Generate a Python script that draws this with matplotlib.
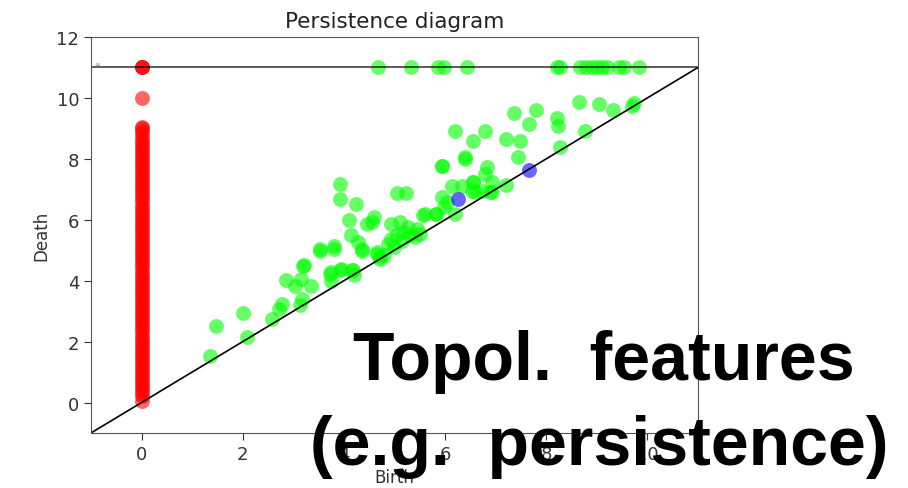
import numpy as np
import matplotlib
matplotlib.use("Agg")
import matplotlib.pyplot as plt

# persistence pairs (inf death drawn at 11)
inf_level = 11.0

red_birth = 0.0
red_death = [0.05, 0.2, 0.3, 0.4, 0.5, 0.6, 0.7, 0.8, 0.9, 1.0, 1.1, 1.2, 1.3,
             1.4, 1.5, 1.6, 1.7, 1.8, 1.9, 2.0, 2.1, 2.2, 2.3, 2.4, 2.5, 2.6,
             2.7, 2.8, 2.9, 3.0, 3.1, 3.2, 3.3, 3.4, 3.5, 3.6, 3.7, 3.8, 3.9,
             4.0, 4.1, 4.2, 4.3, 4.4, 4.5, 4.6, 4.7, 4.8, 4.9, 5.0, 5.1, 5.2,
             5.3, 5.4, 5.5, 5.6, 5.7, 5.8, 5.9, 6.0, 6.1, 6.2, 6.3, 6.4, 6.5,
             6.6, 6.7, 6.8, 6.9, 7.0, 7.1, 7.2, 7.3, 7.4, 7.5, 7.6, 7.7, 7.8,
             7.9, 8.0, 8.1, 8.2, 8.3, 8.4, 8.5, 8.6, 8.7, 8.8, 8.9, 9.0, 9.05,
             10.0]
red_inf_count = 3

green_birth = [1.36, 1.47, 2.01, 2.09, 2.57, 2.72, 2.77, 2.85, 3.03, 3.19, 3.16,
               3.34, 3.13, 3.18, 3.52, 3.80, 3.72, 3.74, 3.95, 4.18, 4.20, 4.35,
               4.65, 4.71, 3.92, 3.92, 4.24, 4.10, 4.14, 4.28, 4.35, 3.52, 3.80,
               3.21, 3.74, 3.95, 4.17, 4.45, 4.59, 4.55, 5.04, 5.23, 4.94, 5.11,
               5.27, 5.44, 4.94, 4.88, 5.04, 4.65, 4.71, 5.17, 5.31, 5.50, 5.57,
               5.82, 5.93, 6.40, 6.83, 6.79, 5.93, 6.03, 6.13, 6.33, 6.56, 6.53,
               6.73, 6.92, 5.97, 6.20, 6.20, 6.55, 6.79, 6.40, 5.93, 7.21, 7.49,
               7.37, 7.80, 7.66, 8.22, 8.24, 8.64, 9.04, 9.32, 8.77, 8.28, 7.45,
               7.21, 6.92, 6.56, 6.89, 6.59, 5.60, 5.83, 9.74, 9.70, 5.00, 5.15,
               4.80, 5.40]
green_death = [1.53, 2.50, 2.94, 2.15, 2.75, 3.08, 3.25, 4.01, 3.83, 4.48, 4.07,
               3.83, 3.21, 3.41, 4.99, 5.05, 4.23, 3.99, 4.34, 4.34, 4.20, 4.99,
               4.94, 4.78, 7.18, 6.69, 6.52, 5.98, 5.51, 5.27, 5.03, 5.03, 5.14,
               4.50, 4.28, 4.39, 4.36, 5.87, 6.09, 5.92, 6.87, 6.87, 5.87, 5.92,
               5.76, 5.70, 5.38, 5.21, 5.49, 4.89, 4.72, 5.60, 5.49, 5.54, 6.14,
               6.20, 7.78, 8.00, 7.73, 7.51, 6.74, 6.58, 7.12, 7.12, 7.23, 6.96,
               6.96, 6.90, 6.42, 6.20, 8.90, 8.60, 8.90, 8.05, 7.75, 8.66, 8.60,
               9.50, 9.61, 9.15, 9.33, 9.07, 9.86, 9.80, 9.61, 8.93, 8.38, 8.05,
               7.15, 7.23, 7.23, 6.90, 6.90, 6.20, 6.20, 9.84, 9.75, 5.10, 5.30,
               4.85, 5.45]
green_inf_birth = [4.67, 5.33, 5.86, 5.98, 6.44, 8.22, 8.28, 8.67, 8.79, 8.91,
                   9.01, 9.11, 9.21, 9.43, 9.54, 9.84]

blue_birth = [6.26, 7.66]
blue_death = [6.69, 7.64]

fig = plt.figure(figsize=(9.08, 4.89), dpi=100)
ax = fig.add_axes([0.1002, 0.1125, 0.6685, 0.8098])

ax.plot([-1, inf_level], [-1, inf_level], color="k", linewidth=1.2)
ax.plot([-1, inf_level], [inf_level, inf_level], color="k", linewidth=1.2, alpha=0.75)
ax.text(-0.95, inf_level + 0.05, r"$\infty$", color="k", alpha=0.5, fontsize=5)

pt = dict(s=115, alpha=0.6, linewidths=0)
ax.scatter([red_birth] * len(red_death), red_death, color="#ff0000", **pt)
ax.scatter([red_birth] * red_inf_count, [inf_level] * red_inf_count, color="#ff0000", **pt)
ax.scatter(green_birth, green_death, color="#00ff00", **pt)
ax.scatter(green_inf_birth, [inf_level] * len(green_inf_birth), color="#00ff00", **pt)
ax.scatter(blue_birth, blue_death, color="#0000ff", **pt)

ax.set_xlim(-1, 11)
ax.set_ylim(-1, 12)
ax.set_xticks([0, 2, 4, 6, 8, 10])
ax.set_yticks([0, 2, 4, 6, 8, 10, 12])
ax.tick_params(labelsize=13, length=5, color="#333333", labelcolor="#333333")
for s in ax.spines.values():
    s.set_color("#555555")
ax.set_title("Persistence diagram", fontsize=15.5, color="#222222", pad=7)
ax.set_xlabel("Birth", fontsize=12, color="#333333")
ax.set_ylabel("Death", fontsize=12, color="#333333")

big = dict(family="Liberation Sans", weight="bold", fontsize=49,
           ha="center", va="baseline", color="black")
fig.text(0.665, 0.223, "Topol.  features", **big)
fig.text(0.660, 0.049, "(e.g.  persistence)", **big)

fig.savefig("out.png", dpi=100)
